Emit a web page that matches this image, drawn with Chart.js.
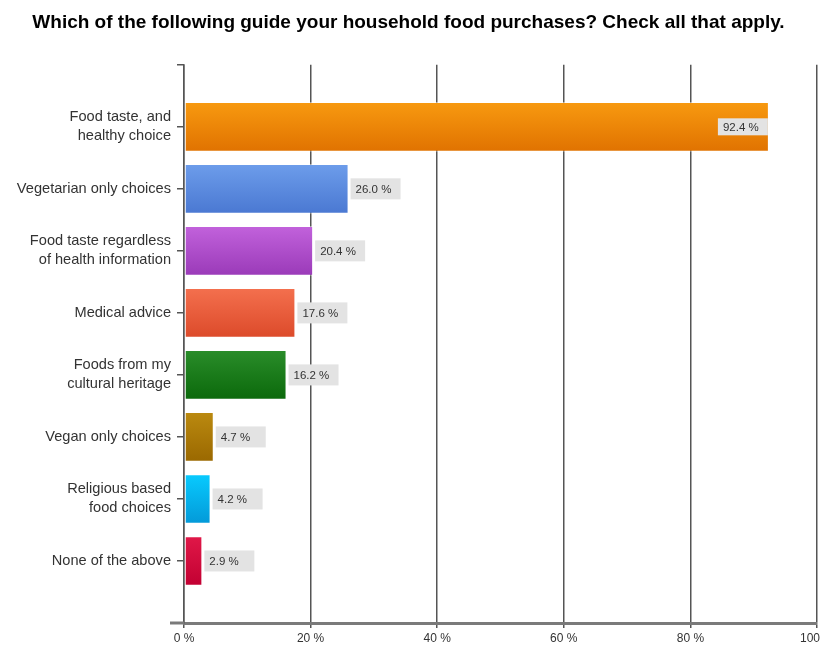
<!DOCTYPE html>
<html>
<head>
<meta charset="utf-8">
<script src="https://cdn.jsdelivr.net/npm/chart.js@4.4.1/dist/chart.umd.min.js"></script>
<style>
  html, body { margin: 0; padding: 0; background: #fff; }
  #wrap { width: 820px; height: 649px; position: relative; }
</style>
</head>
<body>
<div id="wrap"><canvas id="c" width="820" height="649"></canvas></div>
<script>
const titleText = 'Which of the following guide your household food purchases? Check all that apply.';
const categories = [
  ['Food taste, and', 'healthy choice'],
  'Vegetarian only choices',
  ['Food taste regardless', 'of health information'],
  'Medical advice',
  ['Foods from my', 'cultural heritage'],
  'Vegan only choices',
  ['Religious based', 'food choices'],
  'None of the above'
];
const values = [92.4, 26.0, 20.4, 17.6, 16.2, 4.7, 4.2, 2.9];
const xTicks = [0, 20, 40, 60, 80, 100];
const colorsTop = ['#f89a10', '#6d9deb', '#c262dc', '#f4704e', '#2a8d2a', '#bb8a10', '#08cbff', '#e01848'];
const colorsBottom = ['#e07200', '#4a78d2', '#9a3ab8', '#dc4a2a', '#0b690b', '#9a6800', '#0399d8', '#c20032'];

// Pad the category axis with empty slots at both ends (the reference leaves a blank slot above and below)
const labels = [''].concat(categories, ['']);
const data = [null].concat(values, [null]);

function barGradient(ctx) {
  const chart = ctx.chart;
  const i = ctx.dataIndex - 1;
  if (i < 0 || i >= values.length) return '#999';
  const ys = chart.scales && chart.scales.y;
  if (!ys || !chart.chartArea) return colorsTop[i];
  const c = ys.getPixelForValue(ctx.dataIndex);
  const g = chart.ctx.createLinearGradient(0, c - 25, 0, c + 25);
  g.addColorStop(0, colorsTop[i]);
  g.addColorStop(1, colorsBottom[i]);
  return g;
}

const valueLabels = {
  id: 'valueLabels',
  afterDatasetsDraw(chart) {
    const ctx = chart.ctx;
    const meta = chart.getDatasetMeta(0);
    const area = chart.chartArea;
    ctx.save();
    ctx.font = '11.5px "Liberation Sans", Arial, sans-serif';
    ctx.textBaseline = 'middle';
    meta.data.forEach((bar, idx) => {
      const v = data[idx];
      if (v === null || v === undefined) return;
      const txt = v.toFixed(1) + ' %';
      const w = 50;
      let x, h;
      if (bar.x + 2 + w > area.right) {
        h = 17;
        x = bar.x - w - 1;
      } else {
        h = 21;
        x = bar.x + 2;
      }
      ctx.fillStyle = '#e3e3e3';
      ctx.fillRect(x, bar.y - h / 2, w, h);
      ctx.fillStyle = '#333';
      ctx.textAlign = 'left';
      ctx.fillText(txt, x + 5, bar.y + 1);
    });
    ctx.restore();
  }
};

const axisExtras = {
  id: 'axisExtras',
  afterDraw(chart) {
    const ctx = chart.ctx;
    const a = chart.chartArea;
    ctx.save();
    ctx.strokeStyle = '#7a7a7a';
    ctx.lineWidth = 3;
    ctx.beginPath();
    ctx.moveTo(170, a.bottom);
    ctx.lineTo(a.left, a.bottom);
    ctx.stroke();
    ctx.restore();
  }
};

new Chart(document.getElementById('c'), {
  type: 'bar',
  data: {
    labels: labels,
    datasets: [{
      data: data,
      backgroundColor: barGradient,
      borderColor: 'rgba(255,255,255,0.45)',
      borderWidth: 1,
      borderSkipped: false,
      categoryPercentage: 1.0,
      barPercentage: 0.8
    }]
  },
  options: {
    indexAxis: 'y',
    responsive: false,
    animation: false,
    layout: { padding: { left: 0, right: 3, top: 0, bottom: 0 } },
    plugins: {
      legend: { display: false },
      tooltip: { enabled: false },
      title: {
        display: true,
        text: titleText,
        color: '#000',
        font: { family: '"Liberation Sans", Arial, sans-serif', size: 19, weight: 'bold', lineHeight: 1.2 },
        padding: { top: 11, bottom: 31 }
      }
    },
    scales: {
      x: {
        type: 'linear',
        min: 0,
        max: 100,
        afterBuildTicks(scale) { scale.ticks = xTicks.map(v => ({ value: v })); },
        afterFit(scale) { scale.height = 26; scale.paddingLeft = 0; scale.paddingRight = 0; },
        grid: { color: '#555', lineWidth: 1.5, tickLength: 5, tickColor: '#555' },
        border: { display: true, color: '#7a7a7a', width: 3 },
        ticks: {
          color: '#333',
          padding: 3,
          maxRotation: 0,
          font: { family: '"Liberation Sans", Arial, sans-serif', size: 12 },
          callback: (v) => v + ' %'
        }
      },
      y: {
        type: 'category',
        offset: false,
        afterFit(scale) { scale.width = 184; },
        grid: { display: true, offset: false, drawOnChartArea: false, tickLength: 7, color: '#555', tickColor: '#555', lineWidth: 1.5 },
        border: { display: true, color: '#555', width: 1.5 },
        ticks: {
          color: '#333',
          padding: 6,
          autoSkip: false,
          font: { family: '"Liberation Sans", Arial, sans-serif', size: 14.6, lineHeight: 1.3 }
        }
      }
    }
  },
  plugins: [valueLabels, axisExtras]
});
</script>
</body>
</html>
